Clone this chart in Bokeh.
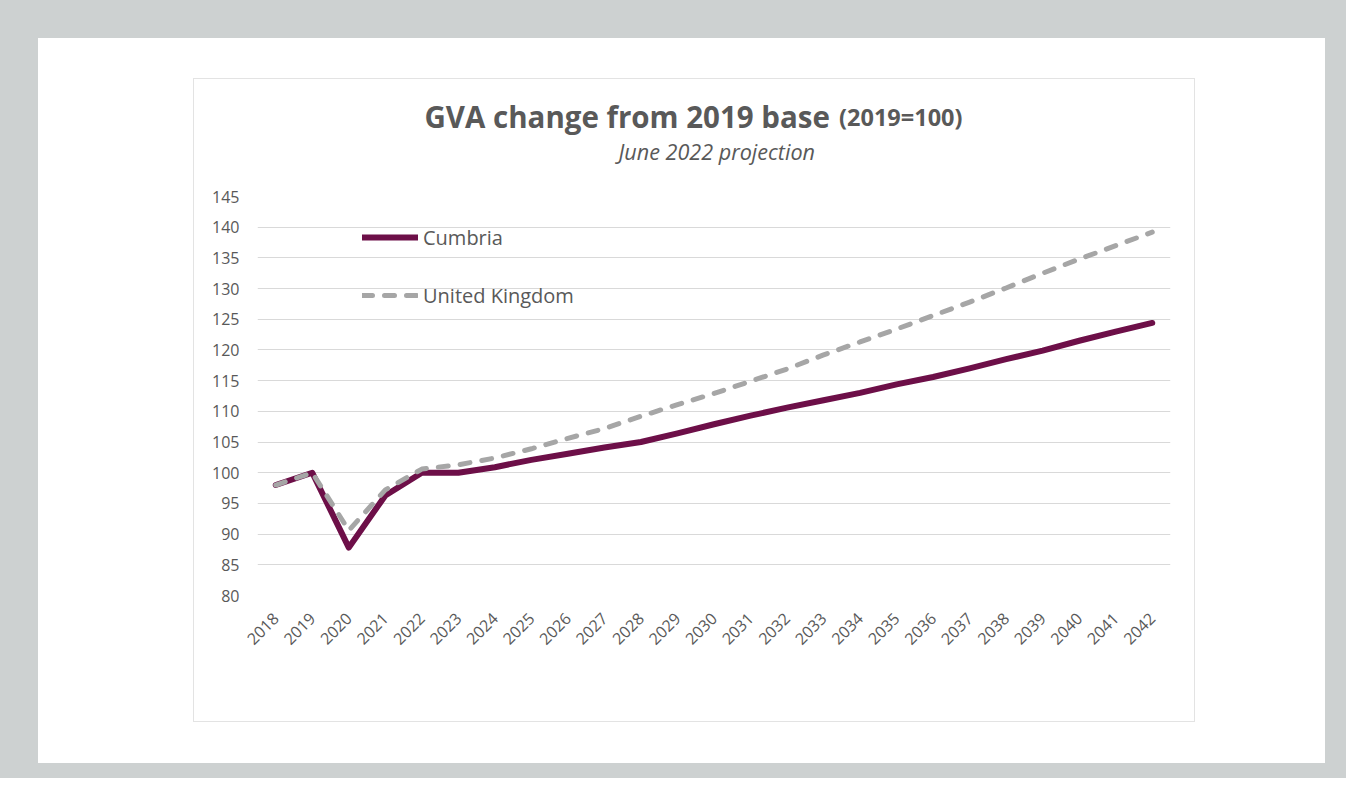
from bokeh.plotting import figure
from bokeh.models import ColumnDataSource, FixedTicker, Legend, LegendItem, Label
from bokeh.layouts import column
from bokeh.embed import file_html
from bokeh.resources import INLINE

# ---------------- data ----------------
years = list(range(2018, 2043))
cumbria = [98.0, 100.0, 87.8, 96.3, 100.0, 100.0, 100.9, 102.1, 103.1, 104.1,
           105.0, 106.4, 107.9, 109.3, 110.6, 111.8, 113.0, 114.4, 115.6, 117.0,
           118.5, 119.9, 121.5, 123.0, 124.4]
uk = [98.0, 100.0, 90.6, 97.2, 100.6, 101.3, 102.4, 103.9, 105.6, 107.2,
      109.2, 111.1, 112.9, 114.9, 116.9, 119.2, 121.3, 123.4, 125.6, 127.8,
      130.1, 132.5, 134.8, 137.0, 139.2]
y_ticks = list(range(80, 150, 5))
series_names = ["Cumbria", "United Kingdom"]
title_main = "GVA change from 2019 base"
title_note = "(2019=100)"
subtitle = "June 2022 projection"

TXT = "#595959"
FONT = "Open Sans"

# ---------------- title strip ----------------
TW, TH = 1000, 97
tfig = figure(width=TW, height=TH, output_backend="svg", toolbar_location=None,
              x_range=(0, TW), y_range=(0, TH), min_border=0,
              background_fill_color="white", border_fill_color="white",
              outline_line_color=None)
tfig.axis.visible = False
tfig.grid.visible = False
tfig.add_layout(Label(x=627, y=60, text=title_main, text_align="right",
                      text_baseline="alphabetic", text_font=FONT, text_font_style="bold",
                      text_font_size="29.5px", text_color=TXT))
tfig.add_layout(Label(x=637, y=60, text=title_note, text_align="left",
                      text_baseline="alphabetic", text_font=FONT, text_font_style="bold",
                      text_font_size="23.5px", text_color=TXT))
tfig.add_layout(Label(x=503, y=25, text=subtitle, text_align="center",
                      text_baseline="alphabetic", text_font=FONT, text_font_style="italic",
                      text_font_size="21.6px", text_color=TXT))

# ---------------- chart ----------------
src = ColumnDataSource(dict(year=years, cumbria=cumbria, uk=uk))

p = figure(width=1000, height=545, output_backend="svg", toolbar_location=None,
           x_range=(years[0] - 0.5, years[-1] + 0.5), y_range=(y_ticks[0], y_ticks[-1]),
           min_border_left=63, min_border_right=24,
           min_border_top=20, min_border_bottom=126,
           background_fill_color="white", border_fill_color="white",
           outline_line_color=None)

r1 = p.line("year", "cumbria", source=src, line_color="#6d0f48", line_width=6,
            line_join="round", line_cap="round")
r2 = p.line("year", "uk", source=src, line_color="#a6a6a6", line_width=5,
            line_dash="10 12", line_join="round", line_cap="round")

p.xaxis.ticker = FixedTicker(ticks=years)
p.yaxis.ticker = FixedTicker(ticks=y_ticks)
for ax in (p.xaxis[0], p.yaxis[0]):
    ax.axis_line_color = None
    ax.major_tick_line_color = None
    ax.minor_tick_line_color = None
    ax.major_tick_out = 0
    ax.major_tick_in = 0
    ax.major_label_text_color = TXT
    ax.major_label_text_font = FONT
    ax.major_label_text_font_size = "16px"
p.xaxis.major_label_orientation = 0.785398
p.xaxis.major_label_standoff = 20
p.yaxis.major_label_standoff = 18

p.xgrid.grid_line_color = None
p.ygrid.grid_line_color = "#d9d9d9"
p.ygrid.grid_line_width = 1

legend = Legend(items=[LegendItem(label=series_names[0], renderers=[r1]),
                       LegendItem(label=series_names[1], renderers=[r2])],
                location=(105, 286), orientation="vertical",
                background_fill_alpha=0, border_line_color=None,
                padding=0, margin=0, spacing=30,
                glyph_width=56, glyph_height=28, label_height=28,
                label_standoff=5, label_text_font=FONT,
                label_text_font_size="20px", label_text_color=TXT)
p.add_layout(legend)

chart_box = column(tfig, p, spacing=0,
                   styles={"border": "1px solid #e3e3e3", "background-color": "white"})
white = column(chart_box, styles={"background-color": "white",
                                  "padding": "40px 130px 41px 155px"})
page = column(white, styles={"background-color": "#cdd1d1",
                             "padding": "38px 21px 15px 38px"})

open("out.html", "w").write(file_html(page, INLINE))
